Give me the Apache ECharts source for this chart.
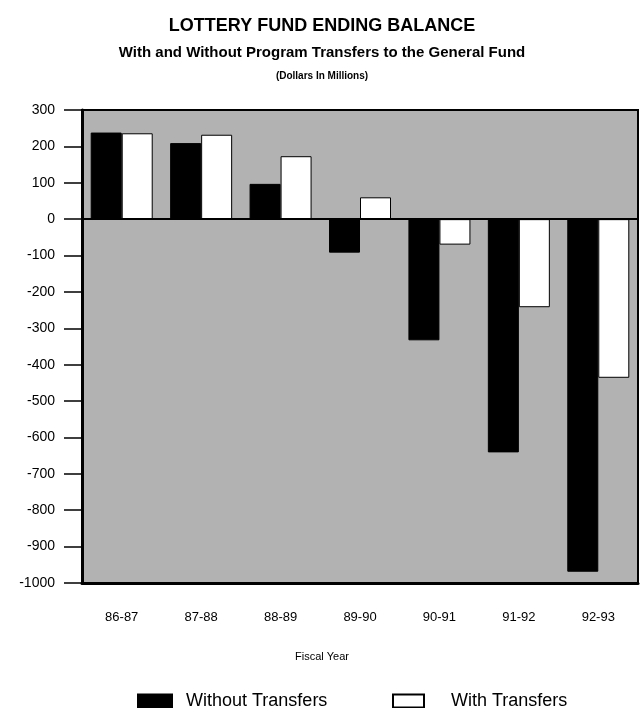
<!DOCTYPE html>
<html>
<head>
<meta charset="utf-8">
<script src="https://cdn.jsdelivr.net/npm/echarts@6/dist/echarts.min.js"></script>
<style>
html, body { margin: 0; padding: 0; background: #fff; }
#main { width: 644px; height: 708px; }
</style>
</head>
<body>
<div id="main"></div>
<script>
// data (dollars in millions)
const years = ['86-87', '87-88', '88-89', '89-90', '90-91', '91-92', '92-93']
const withoutTransfers = [238, 209, 97, -92, -333, -641, -969]
const withTransfers = [236, 232, 173, 60, -70, -242, -436]

const font = 'Liberation Sans, Arial, Helvetica, sans-serif'

const chart = echarts.init(document.getElementById('main'))

chart.setOption({
  animation: false,
  backgroundColor: '#fff',
  title: [
    {
      text: 'LOTTERY FUND ENDING BALANCE',
      left: 'center',
      top: 12,
      textStyle: { fontFamily: font, fontSize: 18, fontWeight: 'bold', color: '#000' }
    },
    {
      text: 'With and Without Program Transfers to the General Fund',
      left: 'center',
      top: 40,
      textStyle: { fontFamily: font, fontSize: 15, fontWeight: 'bold', color: '#000' }
    },
    {
      text: '(Dollars In Millions)',
      left: 'center',
      top: 66,
      textStyle: { fontFamily: font, fontSize: 10, fontWeight: 'bold', color: '#000' }
    },
    {
      text: 'Fiscal Year',
      left: 'center',
      top: 646,
      textStyle: { fontFamily: font, fontSize: 11, fontWeight: 'normal', color: '#000' }
    }
  ],
  legend: [
    {
      left: 132,
      top: 687,
      icon: 'rect',
      itemWidth: 34,
      itemHeight: 13,
      data: ['Without Transfers'],
      textStyle: { fontFamily: font, fontSize: 18, color: '#000', padding: [0, 0, 0, 9] }
    },
    {
      left: 387,
      top: 687,
      icon: 'rect',
      itemWidth: 31,
      itemHeight: 13,
      data: ['With Transfers'],
      textStyle: { fontFamily: font, fontSize: 18, color: '#000', padding: [0, 0, 0, 22] }
    }
  ],
  grid: {
    left: 82,
    right: 6,
    top: 110,
    bottom: 125,
    show: true,
    backgroundColor: '#b2b2b2',
    borderColor: '#000',
    borderWidth: 2
  },
  xAxis: {
    type: 'category',
    data: years,
    position: 'bottom',
    axisLine: { onZero: false, lineStyle: { color: '#000', width: 3 } },
    axisTick: { alignWithLabel: true, length: 14, lineStyle: { color: '#000', width: 1 } },
    axisLabel: { margin: 28, fontFamily: font, fontSize: 13, color: '#000' }
  },
  yAxis: {
    type: 'value',
    min: -1000,
    max: 300,
    interval: 100,
    axisLine: { show: true, lineStyle: { color: '#000', width: 3 } },
    axisTick: { show: true, length: 18, lineStyle: { color: '#000', width: 1.5 } },
    axisLabel: {
      margin: 27,
      fontFamily: font,
      fontSize: 14,
      color: '#000',
      formatter: function (v) { return String(v) }
    },
    splitLine: { show: false }
  },
  series: [
    {
      name: 'Without Transfers',
      type: 'bar',
      data: withoutTransfers,
      barWidth: 31,
      barGap: '0%',
      itemStyle: { color: '#000', borderColor: '#000', borderWidth: 1 },
      markLine: {
        silent: true,
        symbol: 'none',
        label: { show: false },
        lineStyle: { color: '#000', width: 2, type: 'solid' },
        data: [{ yAxis: 0 }]
      }
    },
    {
      name: 'With Transfers',
      type: 'bar',
      data: withTransfers,
      barWidth: 31,
      itemStyle: { color: '#fff', borderColor: '#000', borderWidth: 1 }
    }
  ]
})
</script>
</body>
</html>
